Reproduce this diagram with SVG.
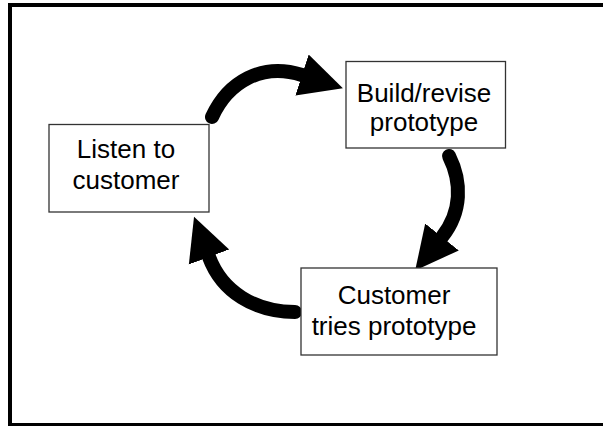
<svg xmlns="http://www.w3.org/2000/svg" width="603" height="426" viewBox="0 0 603 426">
<defs>
<style>
.box{fill:#fff;stroke:#333;stroke-width:1.3}
.lbl{font-family:"Liberation Sans",Arial,sans-serif;font-size:26px;fill:#000;text-anchor:middle}
.arc{fill:none;stroke:#000;stroke-width:14;stroke-linecap:round}
</style>
<marker id="head" markerUnits="userSpaceOnUse" markerWidth="46" markerHeight="46" viewBox="0 -23 46 46" refX="0" refY="0" orient="auto">
<path d="M0,-21.5 L43,0 L0,21.5 z" fill="#000"/>
</marker>
</defs>
<rect x="10" y="5" width="600" height="420" fill="#fff" stroke="#000" stroke-width="4"/>
<g id="connectors">
<path class="arc" d="M212,117 C228,82 262,62 302,75" marker-end="url(#head)"/>
<path class="arc" d="M449,156 C462,182 462,212 442,237" marker-end="url(#head)"/>
<path class="arc" d="M295,312 C255,312 222,292 209,257" marker-end="url(#head)"/>
</g>
<g id="listen">
<rect class="box" x="49" y="124.5" width="160" height="87.5"/>
<text class="lbl" x="126" y="157.5">Listen to</text>
<text class="lbl" x="126" y="188.5">customer</text>
</g>
<g id="build">
<rect class="box" x="346" y="61.5" width="159.5" height="86.5"/>
<text class="lbl" x="424" y="101.5">Build/revise</text>
<text class="lbl" x="424" y="131">prototype</text>
</g>
<g id="tries">
<rect class="box" x="301" y="268" width="196" height="87"/>
<text class="lbl" x="394" y="303.5">Customer</text>
<text class="lbl" x="394" y="334.5">tries prototype</text>
</g>
</svg>
